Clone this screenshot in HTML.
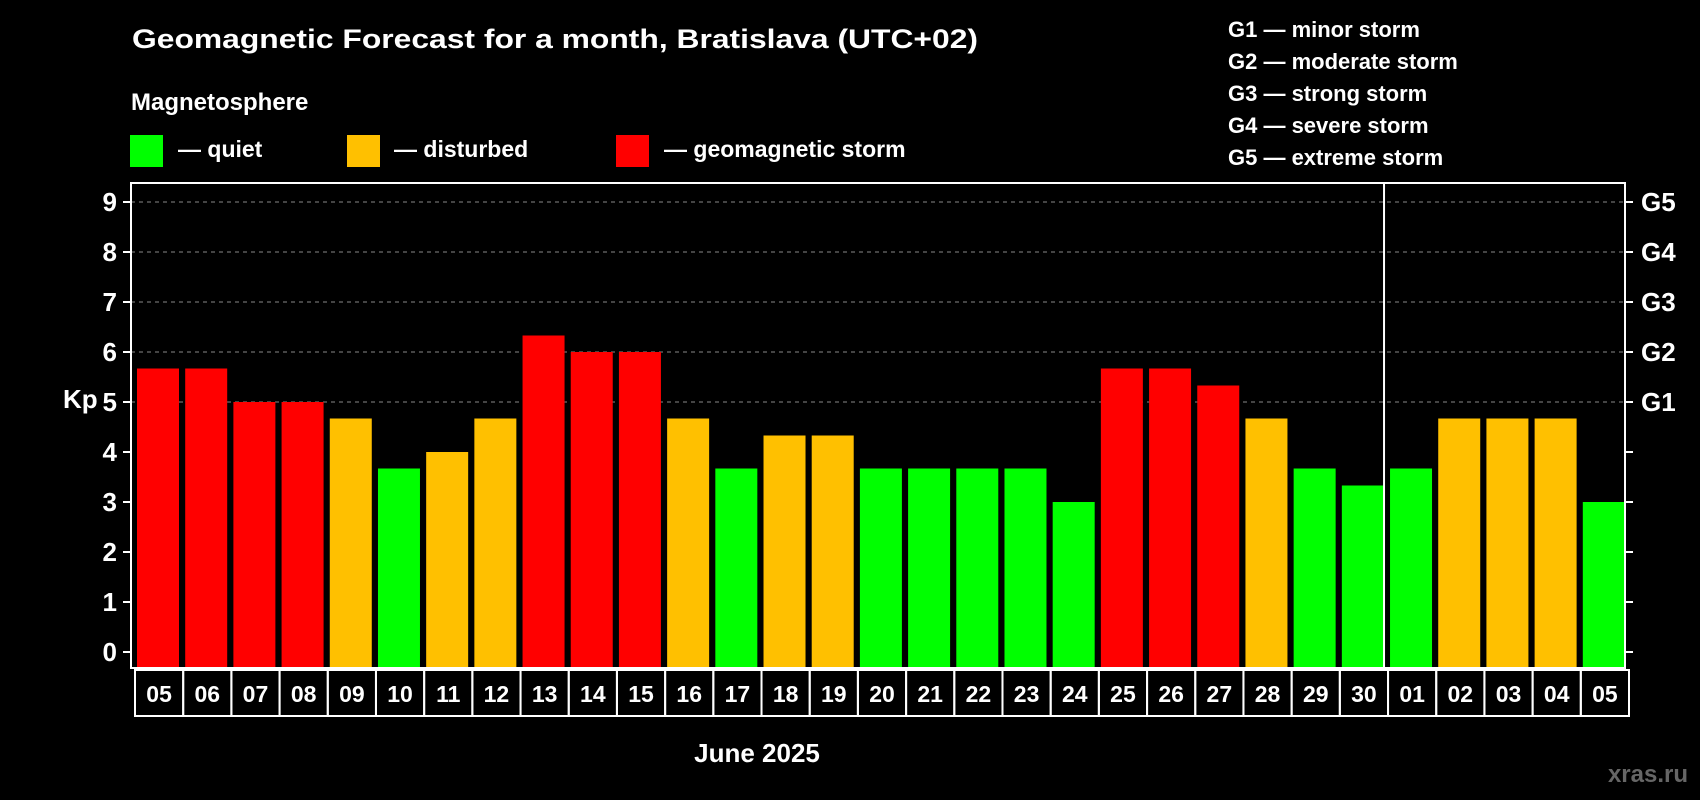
<!DOCTYPE html>
<html><head><meta charset="utf-8"><style>
html,body{margin:0;padding:0;background:#000;}
svg{display:block;font-family:"Liberation Sans",Arial,sans-serif;font-weight:bold;}
</style></head><body>
<svg id="chart" width="1700" height="800" viewBox="0 0 1700 800">
<text x="132" y="48" font-size="27" fill="#fff" textLength="846" lengthAdjust="spacingAndGlyphs">Geomagnetic Forecast for a month, Bratislava (UTC+02)</text>
<text x="131" y="110" font-size="24" fill="#fff">Magnetosphere</text>
<g><rect x="130" y="135" width="33" height="32" fill="#00ff00"/><text x="178" y="157" font-size="23" fill="#fff">— quiet</text></g>
<g><rect x="347" y="135" width="33" height="32" fill="#ffc000"/><text x="394" y="157" font-size="23" fill="#fff">— disturbed</text></g>
<g><rect x="616" y="135" width="33" height="32" fill="#ff0000"/><text x="664" y="157" font-size="23" fill="#fff">— geomagnetic storm</text></g>
<g font-size="22" fill="#fff">
<text x="1228" y="37">G1 — minor storm</text>
<text x="1228" y="69">G2 — moderate storm</text>
<text x="1228" y="101">G3 — strong storm</text>
<text x="1228" y="133">G4 — severe storm</text>
<text x="1228" y="165">G5 — extreme storm</text>
</g>
<text x="63" y="408" font-size="26" fill="#fff">Kp</text>
<text x="757" y="762" font-size="26" fill="#fff" text-anchor="middle">June 2025</text>
<text x="1688" y="782" font-size="24" fill="#666" text-anchor="end">xras.ru</text>
<g id="plot"></g>
</svg>
<script>
const days=["05","06","07","08","09","10","11","12","13","14","15","16","17","18","19","20","21","22","23","24","25","26","27","28","29","30","01","02","03","04","05"];
const kp=[5.67,5.67,5,5,4.67,3.67,4,4.67,6.33,6,6,4.67,3.67,4.33,4.33,3.67,3.67,3.67,3.67,3,5.67,5.67,5.33,4.67,3.67,3.33,3.67,4.67,4.67,4.67,3];
const yTicks=[0,1,2,3,4,5,6,7,8,9];
const gLabels=["","","","","","G1","G2","G3","G4","G5"];
const monthBreak=26;
const NS="http://www.w3.org/2000/svg";
const L=131,R=1625,T=183,B=668,Y0=652,U=50;
const slot=(R-L)/days.length;
const y=v=>Y0-v*U;
const x=i=>L+i*slot;
const g=document.getElementById('plot');
function mk(t,a){const e=document.createElementNS(NS,t);for(const k in a)e.setAttribute(k,a[k]);g.appendChild(e);return e;}
yTicks.forEach((v,i)=>{
 if(v>=5){const gl=mk('line',{x1:L,x2:R,y1:y(v),y2:y(v),stroke:'#888','stroke-dasharray':'4,4','stroke-width':1});
 
 }
 const lt=mk('line',{x1:L-8,x2:L,y1:y(v),y2:y(v),stroke:'#fff','stroke-width':2});
 
 
 const rt=mk('line',{x1:R,x2:R+8,y1:y(v),y2:y(v),stroke:'#fff','stroke-width':2});
 
 
 const tl=mk('text',{x:L-14,y:y(v)+9,'font-size':26,fill:'#fff','text-anchor':'end'});
 tl.textContent=v;
 
 
 if(gLabels[i]){const gt=mk('text',{x:R+16,y:y(v)+9,'font-size':26,fill:'#fff'});
 gt.textContent=gLabels[i];
 
 }
});
kp.forEach((v,i)=>{
 const c=v>=5?'#ff0000':v>=4?'#ffc000':'#00ff00';
 const r=mk('rect',{x:x(i)+6,y:y(v),width:slot-6-0.5*6,height:B-y(v),fill:c});
 r.setAttribute('width',42);
 
 
 const bx=mk('rect',{x:x(i)+4,y:B+2,width:slot,height:46,fill:'none',stroke:'#fff','stroke-width':2});
 
 
 const t=mk('text',{x:x(i)+4+slot/2,y:B+34,'font-size':23,fill:'#fff','text-anchor':'middle'});
 t.textContent=days[i];
 
 
});
const fr=mk('rect',{x:L,y:T,width:R-L,height:B-T,fill:'none',stroke:'#fff','stroke-width':2});


const sep=mk('line',{x1:x(monthBreak),x2:x(monthBreak),y1:T,y2:B,stroke:'#fff','stroke-width':2});


</script>
</body></html>
